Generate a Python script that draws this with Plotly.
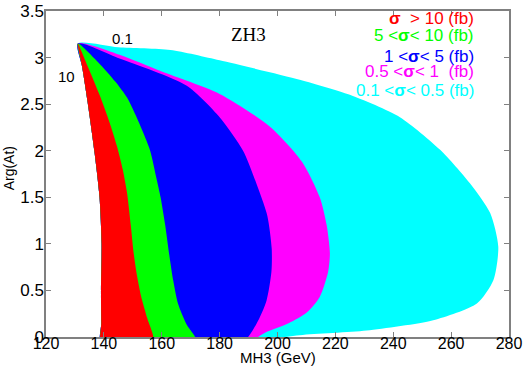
import plotly.graph_objects as go

# shared left edge of all regions, top vertex -> bottom
left_mh = [131.0, 132.5, 134.3, 136.7, 138.5, 139.2, 139.0, 139.1, 139.1]
left_arg = [3.15, 2.9, 2.54, 2.0, 1.5, 1.0, 0.5, 0.15, -0.1]

# right edges of each region, bottom -> top vertex
cyan_mh = [190.0, 207.7, 230.8, 253.8, 268.9, 274.6, 276.3, 273.5, 266.5, 256.2, 242.3, 225.0, 208.0, 180.0, 163.0, 145.0, 131.0]
cyan_arg = [-0.05, 0.02, 0.07, 0.18, 0.36, 0.61, 0.97, 1.33, 1.65, 2.01, 2.36, 2.6, 2.76, 2.97, 3.08, 3.11, 3.15]

magenta_mh = [190.0, 196.0, 204.0, 210.0, 214.6, 217.5, 218.1, 217.0, 214.6, 208.5, 197.3, 180.0, 160.0, 145.4, 131.0]
magenta_arg = [-0.05, 0.05, 0.15, 0.26, 0.43, 0.7, 0.9, 1.2, 1.5, 1.88, 2.26, 2.61, 2.85, 3.03, 3.15]

blue_mh = [188.0, 192.7, 196.2, 197.9, 198.0, 196.5, 193.5, 188.1, 180.0, 168.5, 145.4, 131.0]
blue_arg = [-0.05, 0.14, 0.39, 0.7, 0.95, 1.3, 1.58, 2.0, 2.36, 2.7, 2.99, 3.15]

green_mh = [172.0, 168.5, 165.6, 164.0, 162.7, 161.2, 159.6, 158.2, 156.0, 153.5, 151.0, 148.0, 144.0, 138.0, 131.0]
green_arg = [-0.05, 0.14, 0.36, 0.6, 0.86, 1.2, 1.5, 1.7, 2.0, 2.2, 2.38, 2.57, 2.74, 2.95, 3.15]

red_mh = [157.0, 155.0, 153.0, 151.5, 150.3, 149.3, 148.0, 146.5, 144.5, 142.0, 138.5, 134.5, 131.0]
red_arg = [-0.05, 0.2, 0.42, 0.65, 0.9, 1.2, 1.55, 1.8, 2.05, 2.3, 2.6, 2.9, 3.15]

regions = [
    ("0.1 <<b>σ</b>< 0.5 (fb)", cyan_mh, cyan_arg, "#00ffff"),
    ("0.5 <<b>σ</b>< 1  (fb)", magenta_mh, magenta_arg, "#ff00ff"),
    ("1 <<b>σ</b>< 5 (fb)", blue_mh, blue_arg, "#0000ff"),
    ("5 <<b>σ</b>< 10 (fb)", green_mh, green_arg, "#00ff00"),
    ("<b>σ</b>  > 10 (fb)", red_mh, red_arg, "#ff0000"),
]

legend_arg = [3.42, 3.24, 3.015, 2.85, 2.65]  # red, green, blue, magenta, cyan

fig = go.Figure()
for name, mh, arg, col in regions:
    fig.add_trace(go.Scatter(
        x=left_mh + mh, y=left_arg + arg,
        mode="lines", fill="toself", fillcolor=col,
        line=dict(width=0, color=col, shape="spline", smoothing=0.7),
        hoverinfo="skip", showlegend=False,
    ))

font = "Liberation Sans, Arial, Helvetica, sans-serif"
for (name, mh, arg, col), ly in zip(regions[::-1], legend_arg):
    fig.add_annotation(x=268.6, y=ly, text=name, showarrow=False, xanchor="right",
                       font=dict(family=font, size=17, color=col))

fig.add_annotation(x=146.6, y=3.2, text="0.1", showarrow=False,
                   font=dict(family=font, size=15, color="black"))
fig.add_annotation(x=127.1, y=2.8, text="10", showarrow=False,
                   font=dict(family=font, size=15, color="black"))
fig.add_annotation(x=190.1, y=3.245, text="ZH3", showarrow=False,
                   font=dict(family="Liberation Serif, Times New Roman, serif", size=19, color="black"))

fig.add_annotation(xref="paper", yref="paper", x=0.5, y=-0.064, text="MH3 (GeV)",
                   showarrow=False, yanchor="middle",
                   font=dict(family=font, size=15, color="black"))
fig.add_annotation(xref="paper", yref="paper", x=-0.078, y=0.517, text="Arg(At)",
                   showarrow=False, textangle=-90, xanchor="center", yanchor="middle",
                   font=dict(family=font, size=14, color="black"))

axis = dict(showgrid=False, zeroline=False, showline=True, linecolor="#808080", linewidth=1.5,
            mirror="ticks", ticks="inside", ticklen=5, tickcolor="#808080", automargin=False)
fig.update_xaxes(range=[120, 280], dtick=20, ticklabelstandoff=-9,
                 tickfont=dict(family=font, size=16, color="black"), **axis)
fig.update_yaxes(range=[0, 3.5], dtick=0.5, ticklabelstandoff=-3,
                 tickfont=dict(family=font, size=17, color="black"), **axis)

fig.update_layout(width=526, height=368, margin=dict(l=46, r=17, t=11, b=31),
                  plot_bgcolor="white", paper_bgcolor="white")

# drop the page's default 8px body margin so the figure fills the window exactly
fig.write_html("out.html", config={"displayModeBar": False},
               post_script="document.body.style.margin='0px';")
